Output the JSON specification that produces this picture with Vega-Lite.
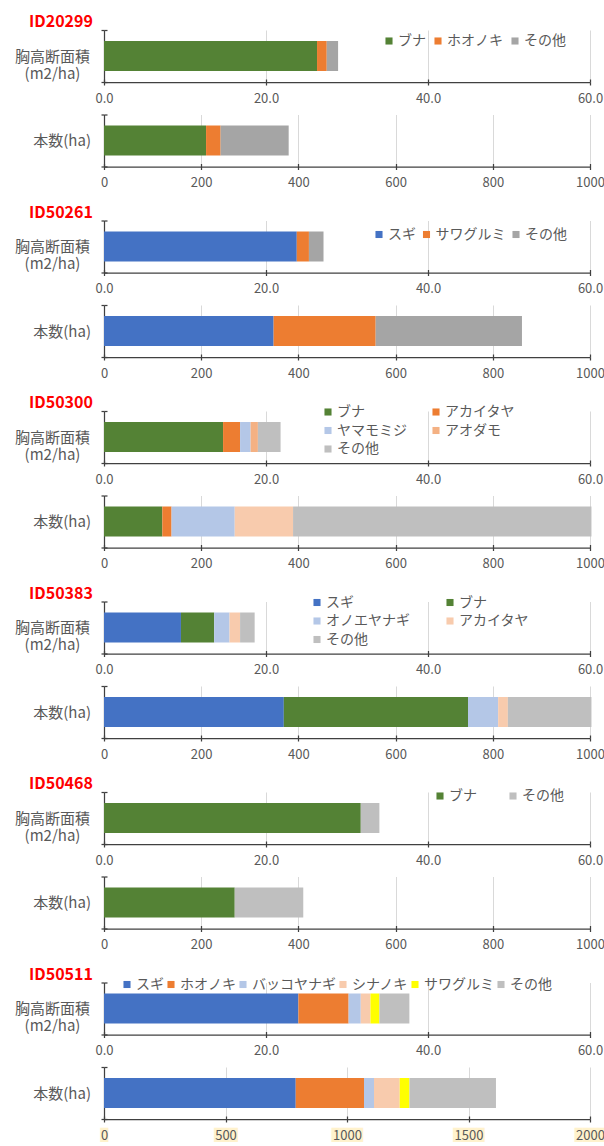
{
  "$schema": "https://vega.github.io/schema/vega-lite/v6.json",
  "background": "white",
  "padding": {"left": 14, "top": 14, "right": 0, "bottom": 0},
  "spacing": 14.5,
  "config": {
    "font": "Noto Sans CJK JP",
    "view": {"stroke": null},
    "axis": {
      "labelFont": "Noto Sans CJK JP",
      "labelColor": "#595959",
      "domainColor": "#404040",
      "domainWidth": 1.25,
      "tickColor": "#404040",
      "tickWidth": 1.25,
      "gridColor": "#D9D9D9",
      "gridWidth": 1
    },
    "axisX": {"labelFontSize": 13, "tickSize": 3, "labelPadding": 7, "labelFlush": false, "grid": false, "zindex": 1},
    "axisY": {"labelFontSize": 15, "tickSize": 3, "grid": false, "tickBand": "extent", "zindex": 1},
    "legend": {
      "labelFont": "Noto Sans CJK JP",
      "labelFontSize": 14,
      "labelColor": "#595959",
      "symbolType": "square",
      "symbolSize": 50,
      "symbolStrokeWidth": 0,
      "labelOffset": 2,
      "rowPadding": 4.5,
      "padding": 0,
      "orient": "none",
      "direction": "horizontal"
    },
    "title": {
      "anchor": "start",
      "frame": "group",
      "dx": -75,
      "offset": -7,
      "baseline": "alphabetic",
      "color": "#FF0000",
      "font": "Noto Sans CJK JP",
      "fontSize": 16,
      "fontWeight": "bold"
    }
  },
  "datasets": {
    "s1": [
      {"p": "a", "m": "胸高断面積|(m2/ha)", "sp": "ブナ", "k": 1, "v": 26.3},
      {"p": "a", "m": "胸高断面積|(m2/ha)", "sp": "ホオノキ", "k": 2, "v": 1.2},
      {"p": "a", "m": "胸高断面積|(m2/ha)", "sp": "その他", "k": 3, "v": 1.4},
      {"p": "b", "m": "本数(ha)", "sp": "ブナ", "k": 1, "v": 210},
      {"p": "b", "m": "本数(ha)", "sp": "ホオノキ", "k": 2, "v": 30},
      {"p": "b", "m": "本数(ha)", "sp": "その他", "k": 3, "v": 140}
    ],
    "s2": [
      {"p": "a", "m": "胸高断面積|(m2/ha)", "sp": "スギ", "k": 1, "v": 23.8},
      {"p": "a", "m": "胸高断面積|(m2/ha)", "sp": "サワグルミ", "k": 2, "v": 1.5},
      {"p": "a", "m": "胸高断面積|(m2/ha)", "sp": "その他", "k": 3, "v": 1.8},
      {"p": "b", "m": "本数(ha)", "sp": "スギ", "k": 1, "v": 349},
      {"p": "b", "m": "本数(ha)", "sp": "サワグルミ", "k": 2, "v": 210},
      {"p": "b", "m": "本数(ha)", "sp": "その他", "k": 3, "v": 301}
    ],
    "s3": [
      {"p": "a", "m": "胸高断面積|(m2/ha)", "sp": "ブナ", "k": 1, "v": 14.7},
      {"p": "a", "m": "胸高断面積|(m2/ha)", "sp": "アカイタヤ", "k": 2, "v": 2.1},
      {"p": "a", "m": "胸高断面積|(m2/ha)", "sp": "ヤマモミジ", "k": 3, "v": 1.3},
      {"p": "a", "m": "胸高断面積|(m2/ha)", "sp": "アオダモ", "k": 4, "v": 0.9},
      {"p": "a", "m": "胸高断面積|(m2/ha)", "sp": "その他", "k": 5, "v": 2.8},
      {"p": "b", "m": "本数(ha)", "sp": "ブナ", "k": 1, "v": 120},
      {"p": "b", "m": "本数(ha)", "sp": "アカイタヤ", "k": 2, "v": 19},
      {"p": "b", "m": "本数(ha)", "sp": "ヤマモミジ", "k": 3, "v": 130},
      {"p": "b", "m": "本数(ha)", "sp": "アオダモ", "k": 4, "v": 120},
      {"p": "b", "m": "本数(ha)", "sp": "その他", "k": 5, "v": 614}
    ],
    "s4": [
      {"p": "a", "m": "胸高断面積|(m2/ha)", "sp": "スギ", "k": 1, "v": 9.5},
      {"p": "a", "m": "胸高断面積|(m2/ha)", "sp": "ブナ", "k": 2, "v": 4.1},
      {"p": "a", "m": "胸高断面積|(m2/ha)", "sp": "オノエヤナギ", "k": 3, "v": 1.9},
      {"p": "a", "m": "胸高断面積|(m2/ha)", "sp": "アカイタヤ", "k": 4, "v": 1.3},
      {"p": "a", "m": "胸高断面積|(m2/ha)", "sp": "その他", "k": 5, "v": 1.8},
      {"p": "b", "m": "本数(ha)", "sp": "スギ", "k": 1, "v": 370},
      {"p": "b", "m": "本数(ha)", "sp": "ブナ", "k": 2, "v": 379},
      {"p": "b", "m": "本数(ha)", "sp": "オノエヤナギ", "k": 3, "v": 62},
      {"p": "b", "m": "本数(ha)", "sp": "アカイタヤ", "k": 4, "v": 20},
      {"p": "b", "m": "本数(ha)", "sp": "その他", "k": 5, "v": 172}
    ],
    "s5": [
      {"p": "a", "m": "胸高断面積|(m2/ha)", "sp": "ブナ", "k": 1, "v": 31.7},
      {"p": "a", "m": "胸高断面積|(m2/ha)", "sp": "その他", "k": 2, "v": 2.3},
      {"p": "b", "m": "本数(ha)", "sp": "ブナ", "k": 1, "v": 269},
      {"p": "b", "m": "本数(ha)", "sp": "その他", "k": 2, "v": 141}
    ],
    "s6": [
      {"p": "a", "m": "胸高断面積|(m2/ha)", "sp": "スギ", "k": 1, "v": 24.0},
      {"p": "a", "m": "胸高断面積|(m2/ha)", "sp": "ホオノキ", "k": 2, "v": 6.2},
      {"p": "a", "m": "胸高断面積|(m2/ha)", "sp": "バッコヤナギ", "k": 3, "v": 1.5},
      {"p": "a", "m": "胸高断面積|(m2/ha)", "sp": "シナノキ", "k": 4, "v": 1.2},
      {"p": "a", "m": "胸高断面積|(m2/ha)", "sp": "サワグルミ", "k": 5, "v": 1.1},
      {"p": "a", "m": "胸高断面積|(m2/ha)", "sp": "その他", "k": 6, "v": 3.7},
      {"p": "b", "m": "本数(ha)", "sp": "スギ", "k": 1, "v": 789},
      {"p": "b", "m": "本数(ha)", "sp": "ホオノキ", "k": 2, "v": 281},
      {"p": "b", "m": "本数(ha)", "sp": "バッコヤナギ", "k": 3, "v": 41},
      {"p": "b", "m": "本数(ha)", "sp": "シナノキ", "k": 4, "v": 106},
      {"p": "b", "m": "本数(ha)", "sp": "サワグルミ", "k": 5, "v": 40},
      {"p": "b", "m": "本数(ha)", "sp": "その他", "k": 6, "v": 356}
    ]
  },
  "resolve": {"scale": {"x": "independent", "y": "independent", "color": "independent"}},
  "vconcat": [
    {
      "spacing": 2.5,
      "resolve": {"scale": {"x": "independent", "y": "independent", "color": "independent"}},
      "vconcat": [
        {
          "width": 486, "height": 52,
          "title": "ID20299",
          "data": {"name": "s1"},
          "transform": [{"filter": "datum.p == 'a'"}],
          "layer": [
            {
              "mark": {"type": "bar", "size": 30},
              "encoding": {
                "y": {"field": "m", "type": "nominal", "scale": {"paddingInner": 0, "paddingOuter": 0}, "axis": {"title": null, "orient": "left", "labelExpr": "split(datum.label, '|')", "labelAlign": "center", "labelBaseline": "middle", "labelPadding": 49, "labelLineHeight": 17}},
                "x": {"field": "v", "type": "quantitative", "stack": "zero", "scale": {"domain": [0, 60], "nice": false}, "axis": {"title": null, "orient": "bottom", "values": [0, 20, 40, 60], "format": ".1f"}},
                "color": {"field": "sp", "type": "nominal", "scale": {"domain": ["ブナ", "ホオノキ", "その他"], "range": ["#548235", "#ED7D31", "#A5A5A5"]}, "legend": {"title": null, "legendX": 278, "legendY": 4, "columns": 3, "columnPadding": 5}},
                "order": {"field": "k", "type": "quantitative"}
              }
            },
            {
              "mark": {"type": "bar", "size": 30, "opacity": 0},
              "encoding": {
                "y": {"field": "m", "type": "nominal", "axis": {"title": null, "orient": "left", "labels": false, "domain": false, "tickSize": -3, "zindex": 0}},
                "x": {"field": "v", "type": "quantitative", "stack": "zero", "axis": {"title": null, "orient": "bottom", "values": [0, 20, 40, 60], "labels": false, "domain": false, "tickSize": -3, "grid": true, "zindex": 0}},
                "order": {"field": "k", "type": "quantitative"}
              }
            }
          ],
          "resolve": {"axis": {"x": "independent", "y": "independent"}}
        },
        {
          "width": 486, "height": 52,
          "data": {"name": "s1"},
          "transform": [{"filter": "datum.p == 'b'"}],
          "layer": [
            {
              "mark": {"type": "bar", "size": 30},
              "encoding": {
                "y": {"field": "m", "type": "nominal", "scale": {"paddingInner": 0, "paddingOuter": 0}, "axis": {"title": null, "orient": "left", "labelAlign": "right", "labelBaseline": "middle", "labelPadding": 10.5}},
                "x": {"field": "v", "type": "quantitative", "stack": "zero", "scale": {"domain": [0, 1000], "nice": false}, "axis": {"title": null, "orient": "bottom", "values": [0, 200, 400, 600, 800, 1000], "format": "d"}},
                "color": {"field": "sp", "type": "nominal", "scale": {"domain": ["ブナ", "ホオノキ", "その他"], "range": ["#548235", "#ED7D31", "#A5A5A5"]}, "legend": null},
                "order": {"field": "k", "type": "quantitative"}
              }
            },
            {
              "mark": {"type": "bar", "size": 30, "opacity": 0},
              "encoding": {
                "y": {"field": "m", "type": "nominal", "axis": {"title": null, "orient": "left", "labels": false, "domain": false, "tickSize": -3, "zindex": 0}},
                "x": {"field": "v", "type": "quantitative", "stack": "zero", "axis": {"title": null, "orient": "bottom", "values": [0, 200, 400, 600, 800, 1000], "labels": false, "domain": false, "tickSize": -3, "grid": true, "zindex": 0}},
                "order": {"field": "k", "type": "quantitative"}
              }
            }
          ],
          "resolve": {"axis": {"x": "independent", "y": "independent"}}
        }
      ]
    },
    {
      "spacing": 2.5,
      "resolve": {"scale": {"x": "independent", "y": "independent", "color": "independent"}},
      "vconcat": [
        {
          "width": 486, "height": 52,
          "title": "ID50261",
          "data": {"name": "s2"},
          "transform": [{"filter": "datum.p == 'a'"}],
          "layer": [
            {
              "mark": {"type": "bar", "size": 30},
              "encoding": {
                "y": {"field": "m", "type": "nominal", "scale": {"paddingInner": 0, "paddingOuter": 0}, "axis": {"title": null, "orient": "left", "labelExpr": "split(datum.label, '|')", "labelAlign": "center", "labelBaseline": "middle", "labelPadding": 49, "labelLineHeight": 17}},
                "x": {"field": "v", "type": "quantitative", "stack": "zero", "scale": {"domain": [0, 60], "nice": false}, "axis": {"title": null, "orient": "bottom", "values": [0, 20, 40, 60], "format": ".1f"}},
                "color": {"field": "sp", "type": "nominal", "scale": {"domain": ["スギ", "サワグルミ", "その他"], "range": ["#4472C4", "#ED7D31", "#A5A5A5"]}, "legend": {"title": null, "legendX": 268, "legendY": 7, "columns": 3, "columnPadding": 3.5}},
                "order": {"field": "k", "type": "quantitative"}
              }
            },
            {
              "mark": {"type": "bar", "size": 30, "opacity": 0},
              "encoding": {
                "y": {"field": "m", "type": "nominal", "axis": {"title": null, "orient": "left", "labels": false, "domain": false, "tickSize": -3, "zindex": 0}},
                "x": {"field": "v", "type": "quantitative", "stack": "zero", "axis": {"title": null, "orient": "bottom", "values": [0, 20, 40, 60], "labels": false, "domain": false, "tickSize": -3, "grid": true, "zindex": 0}},
                "order": {"field": "k", "type": "quantitative"}
              }
            }
          ],
          "resolve": {"axis": {"x": "independent", "y": "independent"}}
        },
        {
          "width": 486, "height": 52,
          "data": {"name": "s2"},
          "transform": [{"filter": "datum.p == 'b'"}],
          "layer": [
            {
              "mark": {"type": "bar", "size": 30},
              "encoding": {
                "y": {"field": "m", "type": "nominal", "scale": {"paddingInner": 0, "paddingOuter": 0}, "axis": {"title": null, "orient": "left", "labelAlign": "right", "labelBaseline": "middle", "labelPadding": 10.5}},
                "x": {"field": "v", "type": "quantitative", "stack": "zero", "scale": {"domain": [0, 1000], "nice": false}, "axis": {"title": null, "orient": "bottom", "values": [0, 200, 400, 600, 800, 1000], "format": "d"}},
                "color": {"field": "sp", "type": "nominal", "scale": {"domain": ["スギ", "サワグルミ", "その他"], "range": ["#4472C4", "#ED7D31", "#A5A5A5"]}, "legend": null},
                "order": {"field": "k", "type": "quantitative"}
              }
            },
            {
              "mark": {"type": "bar", "size": 30, "opacity": 0},
              "encoding": {
                "y": {"field": "m", "type": "nominal", "axis": {"title": null, "orient": "left", "labels": false, "domain": false, "tickSize": -3, "zindex": 0}},
                "x": {"field": "v", "type": "quantitative", "stack": "zero", "axis": {"title": null, "orient": "bottom", "values": [0, 200, 400, 600, 800, 1000], "labels": false, "domain": false, "tickSize": -3, "grid": true, "zindex": 0}},
                "order": {"field": "k", "type": "quantitative"}
              }
            }
          ],
          "resolve": {"axis": {"x": "independent", "y": "independent"}}
        }
      ]
    },
    {
      "spacing": 2.5,
      "resolve": {"scale": {"x": "independent", "y": "independent", "color": "independent"}},
      "vconcat": [
        {
          "width": 486, "height": 52,
          "title": "ID50300",
          "data": {"name": "s3"},
          "transform": [{"filter": "datum.p == 'a'"}],
          "layer": [
            {
              "mark": {"type": "bar", "size": 30},
              "encoding": {
                "y": {"field": "m", "type": "nominal", "scale": {"paddingInner": 0, "paddingOuter": 0}, "axis": {"title": null, "orient": "left", "labelExpr": "split(datum.label, '|')", "labelAlign": "center", "labelBaseline": "middle", "labelPadding": 49, "labelLineHeight": 17}},
                "x": {"field": "v", "type": "quantitative", "stack": "zero", "scale": {"domain": [0, 60], "nice": false}, "axis": {"title": null, "orient": "bottom", "values": [0, 20, 40, 60], "format": ".1f"}},
                "color": {"field": "sp", "type": "nominal", "scale": {"domain": ["ブナ", "アカイタヤ", "ヤマモミジ", "アオダモ", "その他"], "range": ["#548235", "#ED7D31", "#B4C7E7", "#F4B183", "#BFBFBF"]}, "legend": {"title": null, "legendX": 217, "legendY": -6, "columns": 2, "columnPadding": 22}},
                "order": {"field": "k", "type": "quantitative"}
              }
            },
            {
              "mark": {"type": "bar", "size": 30, "opacity": 0},
              "encoding": {
                "y": {"field": "m", "type": "nominal", "axis": {"title": null, "orient": "left", "labels": false, "domain": false, "tickSize": -3, "zindex": 0}},
                "x": {"field": "v", "type": "quantitative", "stack": "zero", "axis": {"title": null, "orient": "bottom", "values": [0, 20, 40, 60], "labels": false, "domain": false, "tickSize": -3, "grid": true, "zindex": 0}},
                "order": {"field": "k", "type": "quantitative"}
              }
            }
          ],
          "resolve": {"axis": {"x": "independent", "y": "independent"}}
        },
        {
          "width": 486, "height": 52,
          "data": {"name": "s3"},
          "transform": [{"filter": "datum.p == 'b'"}],
          "layer": [
            {
              "mark": {"type": "bar", "size": 30},
              "encoding": {
                "y": {"field": "m", "type": "nominal", "scale": {"paddingInner": 0, "paddingOuter": 0}, "axis": {"title": null, "orient": "left", "labelAlign": "right", "labelBaseline": "middle", "labelPadding": 10.5}},
                "x": {"field": "v", "type": "quantitative", "stack": "zero", "scale": {"domain": [0, 1000], "nice": false}, "axis": {"title": null, "orient": "bottom", "values": [0, 200, 400, 600, 800, 1000], "format": "d"}},
                "color": {"field": "sp", "type": "nominal", "scale": {"domain": ["ブナ", "アカイタヤ", "ヤマモミジ", "アオダモ", "その他"], "range": ["#548235", "#ED7D31", "#B4C7E7", "#F8CBAD", "#BFBFBF"]}, "legend": null},
                "order": {"field": "k", "type": "quantitative"}
              }
            },
            {
              "mark": {"type": "bar", "size": 30, "opacity": 0},
              "encoding": {
                "y": {"field": "m", "type": "nominal", "axis": {"title": null, "orient": "left", "labels": false, "domain": false, "tickSize": -3, "zindex": 0}},
                "x": {"field": "v", "type": "quantitative", "stack": "zero", "axis": {"title": null, "orient": "bottom", "values": [0, 200, 400, 600, 800, 1000], "labels": false, "domain": false, "tickSize": -3, "grid": true, "zindex": 0}},
                "order": {"field": "k", "type": "quantitative"}
              }
            }
          ],
          "resolve": {"axis": {"x": "independent", "y": "independent"}}
        }
      ]
    },
    {
      "spacing": 2.5,
      "resolve": {"scale": {"x": "independent", "y": "independent", "color": "independent"}},
      "vconcat": [
        {
          "width": 486, "height": 52,
          "title": "ID50383",
          "data": {"name": "s4"},
          "transform": [{"filter": "datum.p == 'a'"}],
          "layer": [
            {
              "mark": {"type": "bar", "size": 30},
              "encoding": {
                "y": {"field": "m", "type": "nominal", "scale": {"paddingInner": 0, "paddingOuter": 0}, "axis": {"title": null, "orient": "left", "labelExpr": "split(datum.label, '|')", "labelAlign": "center", "labelBaseline": "middle", "labelPadding": 49, "labelLineHeight": 17}},
                "x": {"field": "v", "type": "quantitative", "stack": "zero", "scale": {"domain": [0, 60], "nice": false}, "axis": {"title": null, "orient": "bottom", "values": [0, 20, 40, 60], "format": ".1f"}},
                "color": {"field": "sp", "type": "nominal", "scale": {"domain": ["スギ", "ブナ", "オノエヤナギ", "アカイタヤ", "その他"], "range": ["#4472C4", "#548235", "#B4C7E7", "#F8CBAD", "#BFBFBF"]}, "legend": {"title": null, "legendX": 206, "legendY": -6, "columns": 2, "columnPadding": 33}},
                "order": {"field": "k", "type": "quantitative"}
              }
            },
            {
              "mark": {"type": "bar", "size": 30, "opacity": 0},
              "encoding": {
                "y": {"field": "m", "type": "nominal", "axis": {"title": null, "orient": "left", "labels": false, "domain": false, "tickSize": -3, "zindex": 0}},
                "x": {"field": "v", "type": "quantitative", "stack": "zero", "axis": {"title": null, "orient": "bottom", "values": [0, 20, 40, 60], "labels": false, "domain": false, "tickSize": -3, "grid": true, "zindex": 0}},
                "order": {"field": "k", "type": "quantitative"}
              }
            }
          ],
          "resolve": {"axis": {"x": "independent", "y": "independent"}}
        },
        {
          "width": 486, "height": 52,
          "data": {"name": "s4"},
          "transform": [{"filter": "datum.p == 'b'"}],
          "layer": [
            {
              "mark": {"type": "bar", "size": 30},
              "encoding": {
                "y": {"field": "m", "type": "nominal", "scale": {"paddingInner": 0, "paddingOuter": 0}, "axis": {"title": null, "orient": "left", "labelAlign": "right", "labelBaseline": "middle", "labelPadding": 10.5}},
                "x": {"field": "v", "type": "quantitative", "stack": "zero", "scale": {"domain": [0, 1000], "nice": false}, "axis": {"title": null, "orient": "bottom", "values": [0, 200, 400, 600, 800, 1000], "format": "d"}},
                "color": {"field": "sp", "type": "nominal", "scale": {"domain": ["スギ", "ブナ", "オノエヤナギ", "アカイタヤ", "その他"], "range": ["#4472C4", "#548235", "#B4C7E7", "#F8CBAD", "#BFBFBF"]}, "legend": null},
                "order": {"field": "k", "type": "quantitative"}
              }
            },
            {
              "mark": {"type": "bar", "size": 30, "opacity": 0},
              "encoding": {
                "y": {"field": "m", "type": "nominal", "axis": {"title": null, "orient": "left", "labels": false, "domain": false, "tickSize": -3, "zindex": 0}},
                "x": {"field": "v", "type": "quantitative", "stack": "zero", "axis": {"title": null, "orient": "bottom", "values": [0, 200, 400, 600, 800, 1000], "labels": false, "domain": false, "tickSize": -3, "grid": true, "zindex": 0}},
                "order": {"field": "k", "type": "quantitative"}
              }
            }
          ],
          "resolve": {"axis": {"x": "independent", "y": "independent"}}
        }
      ]
    },
    {
      "spacing": 2.5,
      "resolve": {"scale": {"x": "independent", "y": "independent", "color": "independent"}},
      "vconcat": [
        {
          "width": 486, "height": 52,
          "title": "ID50468",
          "data": {"name": "s5"},
          "transform": [{"filter": "datum.p == 'a'"}],
          "layer": [
            {
              "mark": {"type": "bar", "size": 30},
              "encoding": {
                "y": {"field": "m", "type": "nominal", "scale": {"paddingInner": 0, "paddingOuter": 0}, "axis": {"title": null, "orient": "left", "labelExpr": "split(datum.label, '|')", "labelAlign": "center", "labelBaseline": "middle", "labelPadding": 49, "labelLineHeight": 17}},
                "x": {"field": "v", "type": "quantitative", "stack": "zero", "scale": {"domain": [0, 60], "nice": false}, "axis": {"title": null, "orient": "bottom", "values": [0, 20, 40, 60], "format": ".1f"}},
                "color": {"field": "sp", "type": "nominal", "scale": {"domain": ["ブナ", "その他"], "range": ["#548235", "#BFBFBF"]}, "legend": {"title": null, "legendX": 329, "legendY": -3, "columns": 2, "columnPadding": 29}},
                "order": {"field": "k", "type": "quantitative"}
              }
            },
            {
              "mark": {"type": "bar", "size": 30, "opacity": 0},
              "encoding": {
                "y": {"field": "m", "type": "nominal", "axis": {"title": null, "orient": "left", "labels": false, "domain": false, "tickSize": -3, "zindex": 0}},
                "x": {"field": "v", "type": "quantitative", "stack": "zero", "axis": {"title": null, "orient": "bottom", "values": [0, 20, 40, 60], "labels": false, "domain": false, "tickSize": -3, "grid": true, "zindex": 0}},
                "order": {"field": "k", "type": "quantitative"}
              }
            }
          ],
          "resolve": {"axis": {"x": "independent", "y": "independent"}}
        },
        {
          "width": 486, "height": 52,
          "data": {"name": "s5"},
          "transform": [{"filter": "datum.p == 'b'"}],
          "layer": [
            {
              "mark": {"type": "bar", "size": 30},
              "encoding": {
                "y": {"field": "m", "type": "nominal", "scale": {"paddingInner": 0, "paddingOuter": 0}, "axis": {"title": null, "orient": "left", "labelAlign": "right", "labelBaseline": "middle", "labelPadding": 10.5}},
                "x": {"field": "v", "type": "quantitative", "stack": "zero", "scale": {"domain": [0, 1000], "nice": false}, "axis": {"title": null, "orient": "bottom", "values": [0, 200, 400, 600, 800, 1000], "format": "d"}},
                "color": {"field": "sp", "type": "nominal", "scale": {"domain": ["ブナ", "その他"], "range": ["#548235", "#BFBFBF"]}, "legend": null},
                "order": {"field": "k", "type": "quantitative"}
              }
            },
            {
              "mark": {"type": "bar", "size": 30, "opacity": 0},
              "encoding": {
                "y": {"field": "m", "type": "nominal", "axis": {"title": null, "orient": "left", "labels": false, "domain": false, "tickSize": -3, "zindex": 0}},
                "x": {"field": "v", "type": "quantitative", "stack": "zero", "axis": {"title": null, "orient": "bottom", "values": [0, 200, 400, 600, 800, 1000], "labels": false, "domain": false, "tickSize": -3, "grid": true, "zindex": 0}},
                "order": {"field": "k", "type": "quantitative"}
              }
            }
          ],
          "resolve": {"axis": {"x": "independent", "y": "independent"}}
        }
      ]
    },
    {
      "spacing": 2.5,
      "resolve": {"scale": {"x": "independent", "y": "independent", "color": "independent"}},
      "vconcat": [
        {
          "width": 486, "height": 52,
          "title": "ID50511",
          "data": {"name": "s6"},
          "transform": [{"filter": "datum.p == 'a'"}],
          "layer": [
            {
              "mark": {"type": "bar", "size": 30},
              "encoding": {
                "y": {"field": "m", "type": "nominal", "scale": {"paddingInner": 0, "paddingOuter": 0}, "axis": {"title": null, "orient": "left", "labelExpr": "split(datum.label, '|')", "labelAlign": "center", "labelBaseline": "middle", "labelPadding": 49, "labelLineHeight": 17}},
                "x": {"field": "v", "type": "quantitative", "stack": "zero", "scale": {"domain": [0, 60], "nice": false}, "axis": {"title": null, "orient": "bottom", "values": [0, 20, 40, 60], "format": ".1f"}},
                "color": {"field": "sp", "type": "nominal", "scale": {"domain": ["スギ", "ホオノキ", "バッコヤナギ", "シナノキ", "サワグルミ", "その他"], "range": ["#4472C4", "#ED7D31", "#B4C7E7", "#F8CBAD", "#FFFF00", "#BFBFBF"]}, "legend": {"title": null, "legendX": 16, "legendY": -5, "columns": 6, "columnPadding": -0.5}},
                "order": {"field": "k", "type": "quantitative"}
              }
            },
            {
              "mark": {"type": "bar", "size": 30, "opacity": 0},
              "encoding": {
                "y": {"field": "m", "type": "nominal", "axis": {"title": null, "orient": "left", "labels": false, "domain": false, "tickSize": -3, "zindex": 0}},
                "x": {"field": "v", "type": "quantitative", "stack": "zero", "axis": {"title": null, "orient": "bottom", "values": [0, 20, 40, 60], "labels": false, "domain": false, "tickSize": -3, "grid": true, "zindex": 0}},
                "order": {"field": "k", "type": "quantitative"}
              }
            }
          ],
          "resolve": {"axis": {"x": "independent", "y": "independent"}}
        },
        {
          "width": 486, "height": 52,
          "data": {"name": "s6"},
          "transform": [{"filter": "datum.p == 'b'"}],
          "layer": [
            {
              "mark": {"type": "bar", "size": 30},
              "encoding": {
                "y": {"field": "m", "type": "nominal", "scale": {"paddingInner": 0, "paddingOuter": 0}, "axis": {"title": null, "orient": "left", "labelAlign": "right", "labelBaseline": "middle", "labelPadding": 10.5}},
                "x": {"field": "v", "type": "quantitative", "stack": "zero", "scale": {"domain": [0, 2000], "nice": false}, "axis": {"title": null, "orient": "bottom", "values": [0, 500, 1000, 1500, 2000], "format": "d", "zindex": 2}},
                "color": {"field": "sp", "type": "nominal", "scale": {"domain": ["スギ", "ホオノキ", "バッコヤナギ", "シナノキ", "サワグルミ", "その他"], "range": ["#4472C4", "#ED7D31", "#B4C7E7", "#F8CBAD", "#FFFF00", "#BFBFBF"]}, "legend": null},
                "order": {"field": "k", "type": "quantitative"}
              }
            },
            {
              "mark": {"type": "bar", "size": 30, "opacity": 0},
              "encoding": {
                "y": {"field": "m", "type": "nominal", "axis": {"title": null, "orient": "left", "labels": false, "domain": false, "tickSize": -3, "zindex": 0}},
                "x": {"field": "v", "type": "quantitative", "stack": "zero", "axis": {"title": null, "orient": "bottom", "values": [0, 500, 1000, 1500, 2000], "domain": false, "tickSize": -3, "grid": true, "zindex": 0, "labelPadding": 13, "labelFont": "DejaVu Sans Mono", "labelColor": "#FFF2CC", "labelExpr": "length(datum.label) == 1 ? '█' : length(datum.label) == 3 ? '███' : '████'"}},
                "order": {"field": "k", "type": "quantitative"}
              }
            }
          ],
          "resolve": {"axis": {"x": "independent", "y": "independent"}}
        }
      ]
    }
  ]
}
